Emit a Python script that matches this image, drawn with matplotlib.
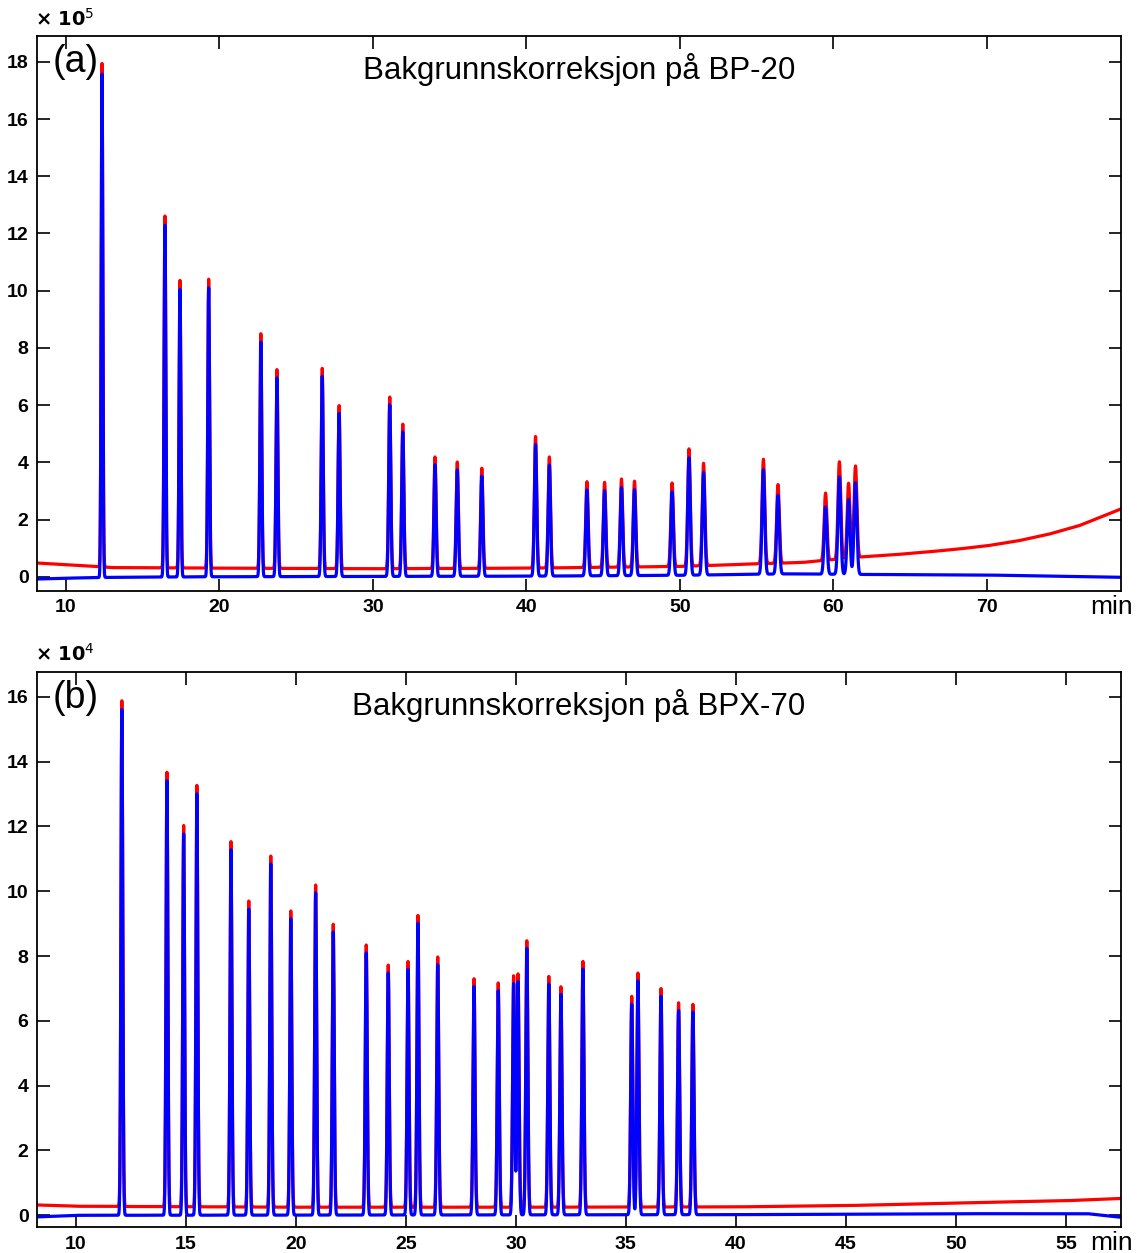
import numpy as np
import matplotlib.pyplot as plt

plt.rcParams['font.family'] = ['Liberation Sans', 'DejaVu Sans']

# panel (a) BP-20, heights in 1e5 (baseline corrected)
a_times = [12.35, 16.45, 17.43, 19.3, 22.7, 23.75, 26.7, 27.8, 31.1, 31.95,
           34.05, 35.5, 37.1, 40.6, 41.5, 43.95, 45.1, 46.2, 47.05, 49.5,
           50.6, 51.55, 55.45, 56.4, 59.5, 60.4, 61.0, 61.45]
a_heights = [17.6, 12.3, 10.05, 10.1, 8.2, 6.95, 7.0, 5.7, 6.0, 5.05,
             3.9, 3.72, 3.5, 4.6, 3.88, 3.0, 2.97, 3.08, 3.0, 2.92,
             4.1, 3.58, 3.65, 2.75, 2.35, 3.4, 2.62, 3.2]
a_red_bt = [8.1, 10, 13, 20, 30, 40, 50, 55, 58, 60, 62, 64, 66, 68, 70, 72, 74, 76, 78.8]
a_red_bv = [0.48, 0.42, 0.32, 0.3, 0.28, 0.3, 0.36, 0.45, 0.5, 0.6, 0.7, 0.77, 0.86, 0.96, 1.08, 1.25, 1.48, 1.78, 2.38]
a_blue_bt = [8.1, 10, 13, 20, 40, 50, 57, 62, 70, 78.8]
a_blue_bv = [-0.08, -0.05, -0.02, 0.0, 0.02, 0.05, 0.1, 0.08, 0.06, -0.02]

# panel (b) BPX-70, heights in 1e4
b_times = [12.09, 14.14, 14.9, 15.5, 17.05, 17.86, 18.86, 19.77, 20.9, 21.7,
           23.2, 24.2, 25.1, 25.55, 26.45, 28.1, 29.2, 29.9, 30.1, 30.5,
           31.5, 32.05, 33.05, 35.27, 35.55, 36.6, 37.4, 38.05]
b_heights = [15.6, 13.4, 11.76, 13.0, 11.27, 9.44, 10.83, 9.14, 9.94, 8.73,
             8.09, 7.47, 7.58, 9.0, 7.72, 7.05, 6.92, 7.14, 7.2, 8.22,
             7.12, 6.8, 7.58, 6.5, 7.22, 6.74, 6.3, 6.25]
b_red_bt = [8.2, 10, 20, 30, 40, 45, 50, 55, 57.5]
b_red_bv = [0.32, 0.28, 0.25, 0.25, 0.26, 0.3, 0.38, 0.45, 0.52]
b_blue_bt = [8.2, 10, 40, 50, 56, 57.5]
b_blue_bv = [-0.05, 0.0, 0.02, 0.05, 0.05, -0.06]


def trace(t, times, heights, w0, w1):
    y = np.zeros_like(t)
    for t0, h in zip(times, heights):
        s = w0 + w1 * (t0 - 10)
        y += h * np.exp(-0.5 * ((t - t0) / s) ** 2)
    return y


def panel(ax, xlim, ylim, times, heights, rbt, rbv, bbt, bbv, xt, yt, expo, label, title, w0, w1):
    t = np.arange(xlim[0], xlim[1], 0.01)
    pk = trace(t, times, heights, w0, w1)
    ax.plot(t, pk + np.interp(t, rbt, rbv), color='#ff0000', lw=2.3)
    ax.plot(t, pk + np.interp(t, bbt, bbv), color='#0000ff', lw=2.3)
    ax.set_xlim(xlim)
    ax.set_ylim(ylim)
    ax.set_xticks(xt)
    ax.set_yticks(yt)
    ax.tick_params(direction='in', length=9, width=1.2, top=True, right=True,
                   labelsize=14, pad=6)
    for lb in ax.get_xticklabels() + ax.get_yticklabels():
        lb.set_fontweight('bold')
    for sp in ax.spines.values():
        sp.set_linewidth(1.3)
    ax.text(-0.002, 1.012, r'$\mathbf{\times\ 10}^{%d}$' % expo, transform=ax.transAxes,
            fontsize=14, ha='left', va='bottom')
    ax.text(0.014, 0.953, label, transform=ax.transAxes, fontsize=27, va='center')
    ax.text(0.5, 0.94, title, transform=ax.transAxes, fontsize=22.5, ha='center', va='center')
    ax.text(1.0105, -0.028, 'min', transform=ax.transAxes, fontsize=19, ha='right', va='center')


fig = plt.figure(figsize=(11.37, 12.53), dpi=100)
ax1 = fig.add_axes([0.0325, 0.5283, 0.9534, 0.4429])
ax2 = fig.add_axes([0.0325, 0.0205, 0.9534, 0.4434])

panel(ax1, (8.11, 78.75), (-0.5, 18.9), a_times, a_heights, a_red_bt, a_red_bv,
      a_blue_bt, a_blue_bv, np.arange(10, 71, 10), np.arange(0, 19, 2), 5, '(a)',
      'Bakgrunnskorreksjon på BP-20', 0.05, 0.0008)
panel(ax2, (8.23, 57.51), (-0.37, 16.77), b_times, b_heights, b_red_bt, b_red_bv,
      b_blue_bt, b_blue_bv, np.arange(10, 56, 5), np.arange(0, 17, 2), 4, '(b)',
      'Bakgrunnskorreksjon på BPX-70', 0.04, 0.0003)

fig.savefig('out.png', dpi=100)
